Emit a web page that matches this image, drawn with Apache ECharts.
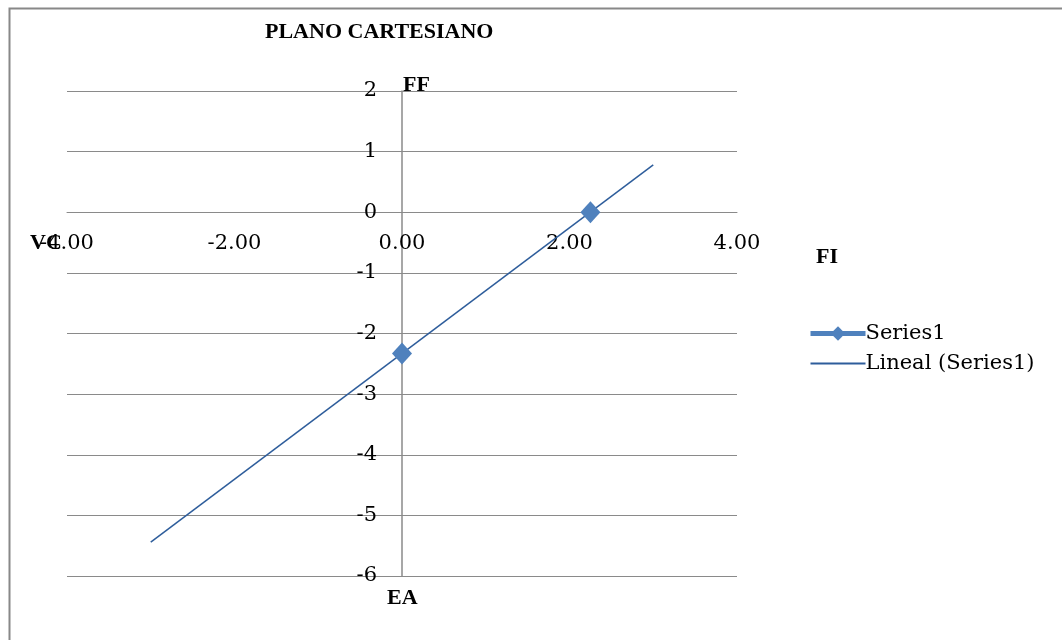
<!DOCTYPE html>
<html>
<head>
<meta charset="utf-8">
<script src="https://cdn.jsdelivr.net/npm/echarts@6/dist/echarts.min.js"></script>
<style>
  html, body { margin: 0; padding: 0; background: #fff; }
  #chart { width: 1062px; height: 640px; }
</style>
</head>
<body>
<div id="chart"></div>
<script>
// datos
const pointX = [0, 2.25];
const pointY = [-2.33, 0];
// linea de tendencia (extremos)
const trendX = [-3, 3];
const trendY = [-5.44, 0.78];

const xTicks = { min: -4, max: 4, step: 2 };
const yTicks = { min: -6, max: 2, step: 1 };

const gridColor = '#8a8a8a';
const labelFont = 'DejaVu Serif';
const boldFont = 'Liberation Serif';

const grid = { left: 67, right: 325, top: 91, bottom: 64 };
const gridW = 1062 - grid.left - grid.right;
const gridH = 640 - grid.top - grid.bottom;
// los ejes se cruzan en cero (como en Excel)
const xAxisOffset = -gridH * (0 - yTicks.min) / (yTicks.max - yTicks.min);
const yAxisOffset = -gridW * (0 - xTicks.min) / (xTicks.max - xTicks.min);

const myChart = echarts.init(document.getElementById('chart'));

const option = {
  backgroundColor: '#fff',
  animation: false,
  title: {
    text: 'PLANO CARTESIANO',
    left: 260,
    top: 16,
    textStyle: { fontFamily: boldFont, fontWeight: 'bold', fontSize: 22, color: '#000' },
  },
  grid: grid,
  legend: {
    orient: 'vertical',
    left: 803,
    top: 318,
    itemWidth: 55,
    itemHeight: 18,
    itemGap: 9,
    textStyle: { fontFamily: labelFont, fontSize: 21, color: '#000', padding: [0, 0, 0, -5] },
    data: [
      { name: 'Series1', itemStyle: { color: '#4f81bd' }, lineStyle: { width: 5, opacity: 1, color: '#4f81bd' } },
      { name: 'Lineal (Series1)', icon: 'path://M0,0 L55,0 L55,2 L0,2 Z', itemStyle: { color: '#2e5d9b' } },
    ],
  },
  xAxis: {
    type: 'value',
    min: xTicks.min,
    max: xTicks.max,
    interval: xTicks.step,
    offset: xAxisOffset,
    axisLine: { show: true, onZero: false, lineStyle: { color: gridColor, width: 1 } },
    axisTick: { show: false },
    splitLine: { show: false },
    axisLabel: {
      margin: 21,
      fontFamily: labelFont,
      fontSize: 21,
      color: '#000',
      formatter: (v) => v.toFixed(2),
    },
  },
  yAxis: {
    type: 'value',
    min: yTicks.min,
    max: yTicks.max,
    interval: yTicks.step,
    offset: yAxisOffset,
    axisLine: { show: true, onZero: false, lineStyle: { color: gridColor, width: 1.5 } },
    axisTick: { show: false },
    splitLine: { show: true, lineStyle: { color: gridColor, width: 1 } },
    axisLabel: { margin: 25, fontFamily: labelFont, fontSize: 21, color: '#000' },
  },
  series: [
    {
      name: 'Lineal (Series1)',
      type: 'line',
      data: trendX.map((x, i) => [x, trendY[i]]),
      showSymbol: false,
      symbol: 'none',
      lineStyle: { color: '#2e5d9b', width: 1.5 },
      itemStyle: { color: '#2e5d9b' },
      z: 3,
    },
    {
      name: 'Series1',
      type: 'line',
      data: pointX.map((x, i) => [x, pointY[i]]),
      symbol: 'diamond',
      symbolSize: [20, 22],
      itemStyle: { color: '#4f81bd' },
      lineStyle: { width: 0, opacity: 0 },
      z: 4,
    },
  ],
  graphic: [
    // borde del marco
    { type: 'rect', left: 7, top: 6, shape: { width: 1100, height: 700 },
      style: { fill: 'none', stroke: '#888', lineWidth: 2 }, silent: true },
    { type: 'text', left: 403, top: 74, style: { text: 'FF', font: 'bold 22px Liberation Serif', fill: '#000' } },
    { type: 'text', left: 387, top: 587, style: { text: 'EA', font: 'bold 22px Liberation Serif', fill: '#000' } },
    { type: 'text', left: 30, top: 232, style: { text: 'VC', font: 'bold 22px Liberation Serif', fill: '#000' } },
    { type: 'text', left: 816, top: 246, style: { text: 'FI', font: 'bold 22px Liberation Serif', fill: '#000' } },
  ],
};

myChart.setOption(option);
window.addEventListener('resize', () => {
  myChart.resize();
});
</script>
</body>
</html>
